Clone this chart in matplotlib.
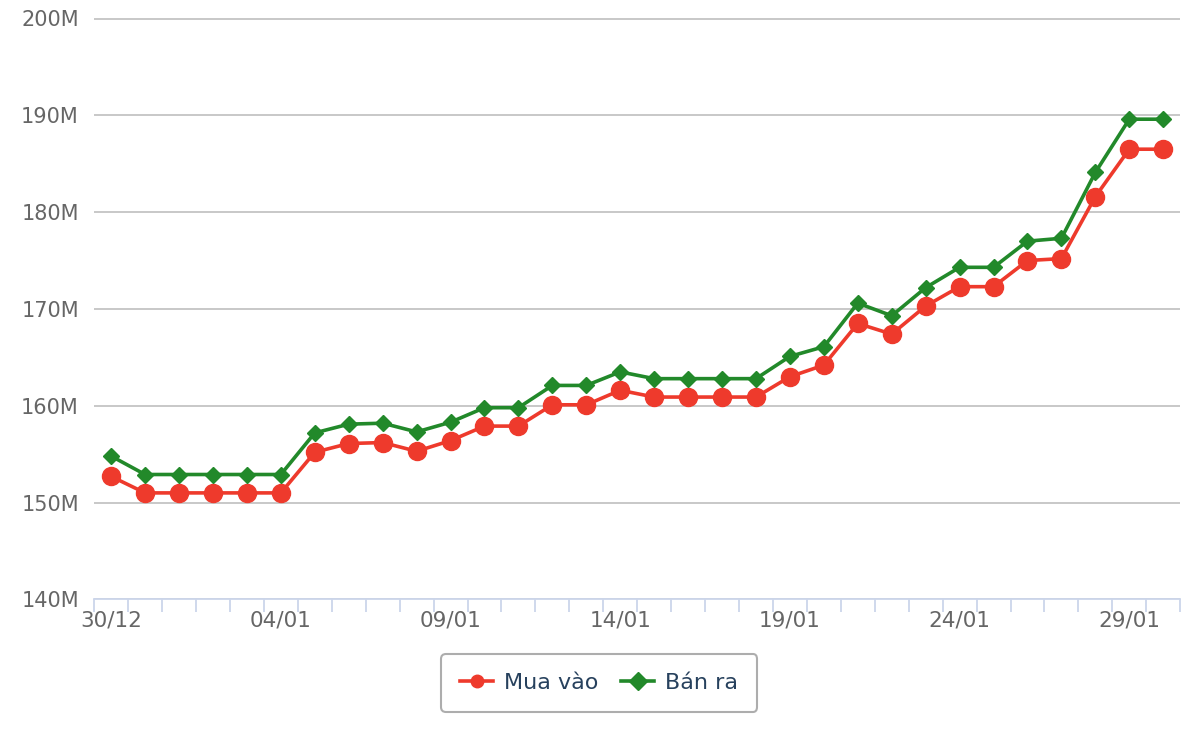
import numpy as np
import matplotlib
matplotlib.use("Agg")
import matplotlib.pyplot as plt

# dates 30/12 -> 30/01
dates = ["30/12", "31/12"] + ["%02d/01" % d for d in range(1, 31)]

# prices in million VND
mua_vao = [152.7, 151.0, 151.0, 151.0, 151.0, 151.0, 155.2, 156.1, 156.2, 155.3,
           156.4, 157.9, 157.9, 160.1, 160.1, 161.6, 160.9, 160.9, 160.9, 160.9,
           163.0, 164.2, 168.5, 167.4, 170.3, 172.3, 172.3, 175.0, 175.2, 181.6,
           186.5, 186.5]
ban_ra = [154.8, 152.9, 152.9, 152.9, 152.9, 152.9, 157.2, 158.1, 158.2, 157.3,
          158.3, 159.8, 159.8, 162.1, 162.1, 163.5, 162.8, 162.8, 162.8, 162.8,
          165.1, 166.1, 170.6, 169.3, 172.2, 174.3, 174.3, 177.0, 177.3, 184.1,
          189.6, 189.6]

y_ticks = [140, 150, 160, 170, 180, 190, 200]

fig = plt.figure(figsize=(12, 7.4), dpi=100)
ax = fig.add_axes([0.0785, 0.19, 0.905, 0.785])

x = np.arange(len(dates))
ax.plot(x, mua_vao, color="#ee3a2c", lw=2.6, marker="o", ms=13,
        label="Mua vào", zorder=3)
ax.plot(x, ban_ra, color="#22892a", lw=2.6, marker="D", ms=8.5,
        label="Bán ra", zorder=4)

ax.set_ylim(140, 200)
ax.set_yticks(y_ticks)
ax.set_yticklabels(["%dM" % v for v in y_ticks])
ax.set_xlim(-0.5, len(dates) - 0.5)

# labels every 5 days, tick marks between days
lab_idx = list(range(0, len(dates), 5))
ax.set_xticks(lab_idx)
ax.set_xticklabels([dates[i] for i in lab_idx])
ax.set_xticks(np.arange(-0.5, len(dates), 1.0), minor=True)

ax.grid(axis="y", color="#c4c4c4", lw=1.3)
ax.set_axisbelow(True)
for s in ["top", "right", "left"]:
    ax.spines[s].set_visible(False)
ax.spines["bottom"].set_color("#ccd6eb")
ax.spines["bottom"].set_linewidth(1.3)

ax.tick_params(axis="y", length=0, pad=11, labelsize=15, labelcolor="#666666")
ax.tick_params(axis="x", which="major", length=0, pad=8, labelsize=15.5,
               labelcolor="#666666")
ax.tick_params(axis="x", which="minor", length=9, width=1.3, color="#ccd6eb")

leg = ax.legend(loc="upper center", bbox_to_anchor=(0.465, -0.075), ncol=2,
                frameon=True, fontsize=16, handlelength=1.5, columnspacing=1.0,
                handletextpad=0.5, borderpad=0.85, fancybox=True)
leg.get_frame().set_edgecolor("#999999")
leg.get_frame().set_linewidth(1.5)
for t in leg.get_texts():
    t.set_color("#27415d")
for h in leg.legend_handles:
    h.set_markersize(9)

fig.savefig("out.png", dpi=100)
